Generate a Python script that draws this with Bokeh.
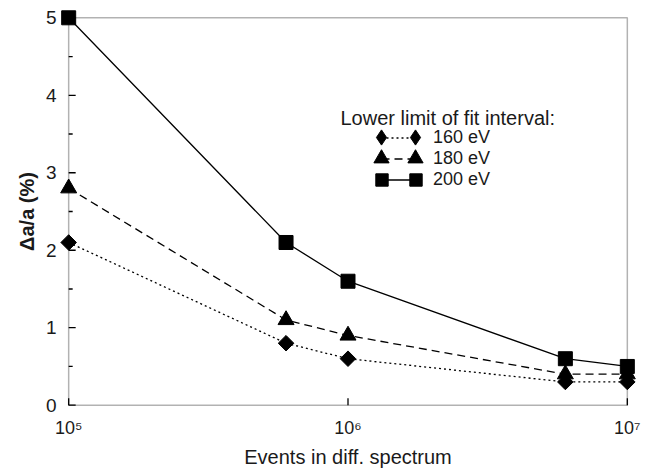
import math
from bokeh.plotting import figure
from bokeh.models import (Range1d, Legend, LegendItem, Label, FixedTicker,
                          BoxAnnotation, ColumnDataSource)
from bokeh.embed import file_html
from bokeh.resources import INLINE

events = [1e5, 6e5, 1e6, 6e6, 1e7]
y160 = [2.1, 0.8, 0.6, 0.3, 0.3]
y180 = [2.8, 1.1, 0.9, 0.4, 0.4]
y200 = [5.0, 2.1, 1.6, 0.6, 0.5]
x_ticks = [1e5, 1e6, 1e7]
x_tick_labels = ["10\u2075", "10\u2076", "10\u2077"]
y_ticks = [0, 1, 2, 3, 4, 5]
y_minor_ticks = [0.5, 1.5, 2.5, 3.5, 4.5]
legend_title = "Lower limit of fit interval:"
series_labels = ["160 eV", "180 eV", "200 eV"]
x_label = "Events in diff. spectrum"
y_label = "\u0394a/a (%)"

FONT = "Liberation Sans"
TXT = "#1a1a1a"
W, H = 653, 472
BL, BR, BT, BB = 57, 15, 8, 58
FW, FH = W - BL - BR, H - BT - BB
XPAD, YPAD = 0.04, 0.12
lx0, lx1 = math.log10(x_ticks[0]) - XPAD, math.log10(x_ticks[-1]) + XPAD
y0r, y1r = y_ticks[0] - YPAD, y_ticks[-1] + YPAD
ppd = FW / (lx1 - lx0)
ppu = FH / (y1r - y0r)

p = figure(width=W, height=H, x_axis_type="log",
           x_range=Range1d(10 ** lx0, 10 ** lx1), y_range=Range1d(y0r, y1r),
           output_backend="svg", toolbar_location=None,
           min_border_left=BL, min_border_right=BR,
           min_border_top=BT, min_border_bottom=BB)
p.background_fill_color = "white"
p.border_fill_color = "white"
p.grid.visible = False
p.outline_line_color = None

for ax in (p.xaxis[0], p.yaxis[0]):
    ax.axis_line_color = None
    ax.major_tick_line_color = None
    ax.minor_tick_line_color = None
    ax.major_tick_in = 0
    ax.major_tick_out = 0
    ax.minor_tick_in = 0
    ax.minor_tick_out = 0
    ax.major_label_text_font = FONT
    ax.major_label_text_color = TXT
    ax.axis_label_text_font = FONT
    ax.axis_label_text_color = TXT
    ax.axis_label_text_font_size = "20px"

xa = p.xaxis[0]
xa.ticker = FixedTicker(ticks=x_ticks, minor_ticks=[])
xa.major_label_overrides = dict(zip(x_ticks, x_tick_labels))
xa.major_label_text_font_size = "18px"
xa.major_label_standoff = 3
xa.axis_label = x_label
xa.axis_label_standoff = 5
xa.axis_label_text_font_style = "normal"

ya = p.yaxis[0]
ya.ticker = FixedTicker(ticks=y_ticks, minor_ticks=[])
ya.major_label_standoff = 1
ya.major_label_text_font_size = "19px"
ya.axis_label = y_label
ya.axis_label_standoff = 5
ya.axis_label_text_font_style = "bold"

# frame box at the axis limits
p.add_layout(BoxAnnotation(left=x_ticks[0], right=x_ticks[-1],
                           bottom=y_ticks[0], top=y_ticks[-1],
                           fill_alpha=0, line_color="black", line_width=1.5,
                           level="underlay"))

# inward ticks
xl = x_ticks[0]
p.segment(x0=[xl] * len(y_ticks), y0=y_ticks,
          x1=[xl * 10 ** (7 / ppd)] * len(y_ticks), y1=y_ticks,
          line_color="black", line_width=1.3)
p.segment(x0=[xl] * len(y_minor_ticks), y0=y_minor_ticks,
          x1=[xl * 10 ** (4 / ppd)] * len(y_minor_ticks), y1=y_minor_ticks,
          line_color="black", line_width=1.3)
p.segment(x0=x_ticks, y0=[y_ticks[0]] * len(x_ticks),
          x1=x_ticks, y1=[y_ticks[0] + 7 / ppu] * len(x_ticks),
          line_color="black", line_width=1.3)

# data
l160 = p.line(events, y160, line_color="black", line_width=1.3, line_dash="2 3")
m160 = p.scatter(events, y160, marker="square", angle=math.pi / 4, size=11,
                 fill_color="black", line_color="black")
l180 = p.line(events, y180, line_color="black", line_width=1.3, line_dash="8 5")
m180 = p.scatter(events, y180, marker="triangle", size=16,
                 fill_color="black", line_color="black")
l200 = p.line(events, y200, line_color="black", line_width=1.3)
m200 = p.scatter(events, y200, marker="square", size=14,
                 fill_color="black", line_color="black")

# legend-only key for the diamond (legend keys are drawn unrotated); no visible point
key_src = ColumnDataSource(data=dict(x=[float("nan")], y=[float("nan")]))
k160 = p.scatter("x", "y", source=key_src, marker="diamond",
                 fill_color="black", line_color="black")

# legend
p.add_layout(Label(x=340 - BL, y=(H - BB) - 117, x_units="screen", y_units="screen",
                   text=legend_title, text_baseline="alphabetic",
                   text_font=FONT, text_font_size="20px", text_color=TXT))

row_cy = [137, 158, 179]
mx_left, mx_right = 381, 415
lines = [l160, l180, l200]
keys = [k160, m180, m200]
msize_box = [38, 38, 31]
fb = H - BB
for i in range(3):
    rh = 21
    p.add_layout(Legend(items=[LegendItem(label=series_labels[i], renderers=[lines[i]])],
                        location=(mx_left - BL, fb - (row_cy[i] + rh / 2)),
                        border_line_color=None, background_fill_alpha=0,
                        padding=0, margin=0, spacing=0,
                        glyph_height=rh, glyph_width=mx_right - mx_left,
                        label_height=rh, label_standoff=18,
                        label_text_font=FONT, label_text_font_size="18px",
                        label_text_color=TXT), "center")
    g = msize_box[i]
    for cx in (mx_left, mx_right):
        p.add_layout(Legend(items=[LegendItem(label="", renderers=[keys[i]])],
                            location=(cx - g / 2 - BL, fb - (row_cy[i] + g / 2)),
                            border_line_color=None, background_fill_alpha=0,
                            padding=0, margin=0, spacing=0,
                            glyph_height=g, glyph_width=g, label_height=1,
                            label_width=0, label_standoff=0,
                            label_text_font_size="1px"), "center")

open("out.html", "w").write(file_html(p, INLINE))
